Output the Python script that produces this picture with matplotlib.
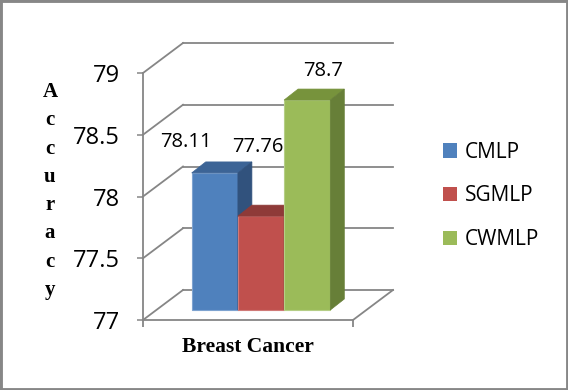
import matplotlib
matplotlib.use("Agg")
import matplotlib.pyplot as plt
from matplotlib.patches import Polygon, Rectangle
from matplotlib.lines import Line2D
from matplotlib.transforms import offset_copy, IdentityTransform

# ---- data ----
category = "Breast Cancer"
series = ["CMLP", "SGMLP", "CWMLP"]
values = [78.11, 77.76, 78.7]
value_labels = ["78.11", "77.76", "78.7"]
yticks = [77, 77.5, 78, 78.5, 79]
ytick_labels = ["77", "77.5", "78", "78.5", "79"]
ylabel = "Accuracy"

# ---- style ----
front_colors = ["#4F81BD", "#C0504D", "#9BBB59"]
top_colors = ["#3C6496", "#8E3A38", "#77933C"]
side_colors = ["#31527D", "#7A302E", "#677F38"]
edge_colors = ["#7EA3D0", "#D07A78", "#B5CE86"]
grid_color = "#868686"
W, H = 568, 390
DPI = 100
wall_dx, wall_dy = 40, 30      # back wall offset (pixels)
bar_dx, bar_dy = 13, 10        # bar plane offset (pixels)
dep_dx, dep_dy = 14, 11        # bar depth (pixels)
label_off = [(-29, 31), (-3, 69), (16, 29)]  # value label offsets (pixels)

fig = plt.figure(figsize=(W / DPI, H / DPI), dpi=DPI)
fig.patch.set_facecolor("white")
fig.add_artist(Rectangle((0, 0), 1, 1, transform=fig.transFigure,
                         fill=False, edgecolor="#878787", linewidth=3.5))

ax = fig.add_axes([143 / W, 70 / H, 210 / W, 247 / H])
ax.set_xlim(0, 1)
ax.set_ylim(77, 79)
ax.patch.set_visible(False)
for s in ["top", "right"]:
    ax.spines[s].set_visible(False)
for s in ["left", "bottom"]:
    ax.spines[s].set_color(grid_color)
    ax.spines[s].set_linewidth(1.3)
ax.set_yticks(yticks)
ax.set_yticklabels(ytick_labels, fontsize=17, family="Open Sans")
ax.set_xticks([0, 1])
ax.set_xticklabels(["", ""])
ax.tick_params(axis="y", length=4.5, width=1.1, color=grid_color, pad=12)
ax.tick_params(axis="x", length=5, width=1.3, color=grid_color)

fig.canvas.draw()

# back wall gridlines and side-wall diagonals
wall_trans = offset_copy(ax.transData, fig=fig, x=wall_dx, y=wall_dy, units="dots")
for v in yticks:
    ax.add_line(Line2D([0, 1], [v, v], transform=wall_trans, color=grid_color,
                       linewidth=1.3, clip_on=False, zorder=1))
    p = ax.transData.transform((0, v))
    ax.add_line(Line2D([p[0], p[0] + wall_dx], [p[1], p[1] + wall_dy],
                       transform=IdentityTransform(), color=grid_color,
                       linewidth=1.3, clip_on=False, zorder=1))
p = ax.transData.transform((1, yticks[0]))
ax.add_line(Line2D([p[0], p[0] + wall_dx], [p[1], p[1] + wall_dy],
                   transform=IdentityTransform(), color=grid_color,
                   linewidth=1.3, clip_on=False, zorder=1))

# bars
bar_trans = offset_copy(ax.transData, fig=fig, x=bar_dx, y=bar_dy, units="dots")
width = 0.22
xs = [0.5 + (i - 1) * width for i in range(len(values))]
base = yticks[0]
bars = ax.bar(xs, [v - base for v in values], bottom=base, width=width,
              color=front_colors, edgecolor=edge_colors, linewidth=0.8,
              label=None, clip_on=False)
for i, (b, v) in enumerate(zip(bars, values)):
    b.set_transform(bar_trans)
    b.set_zorder(3 + i)
    x0, y0 = bar_trans.transform((xs[i] - width / 2, base))
    x1, y1 = bar_trans.transform((xs[i] + width / 2, v))
    top = Polygon([(x0, y1), (x1, y1), (x1 + dep_dx, y1 + dep_dy), (x0 + dep_dx, y1 + dep_dy)],
                  closed=True, transform=IdentityTransform(), facecolor=top_colors[i],
                  edgecolor=top_colors[i], linewidth=0.5, zorder=3 + i, clip_on=False)
    side = Polygon([(x1, y0), (x1, y1), (x1 + dep_dx, y1 + dep_dy), (x1 + dep_dx, y0 + dep_dy)],
                   closed=True, transform=IdentityTransform(), facecolor=side_colors[i],
                   edgecolor=side_colors[i], linewidth=0.5, zorder=3 + i, clip_on=False)
    ax.add_patch(top)
    ax.add_patch(side)
    lx = (x0 + x1) / 2 + label_off[i][0]
    ly = y1 + label_off[i][1]
    ax.text(lx, ly, value_labels[i], transform=IdentityTransform(), ha="center",
            va="center", fontsize=14.5, family="Open Sans", color="black", zorder=10)

# x category label
ax.text(0.5, -0.11, category, transform=ax.transAxes, ha="center", va="center",
        fontsize=15.5, fontweight="bold", family="Liberation Serif")

# stacked y label
for k, ch in enumerate(ylabel):
    fig.text(50 / W, 1 - (92 + k * 28.3) / H, ch, ha="center", va="center",
             fontsize=15, fontweight="bold", family="Liberation Serif")

# legend
handles = [Rectangle((0, 0), 1, 1, facecolor=c, edgecolor="none") for c in front_colors]
fig.legend(handles, series, loc="center left", bbox_to_anchor=(424 / W, 1 - 196 / H),
           frameon=False, prop={"family": "Open Sans", "size": 15},
           handlelength=0.7, handleheight=0.7, handletextpad=0.35, labelspacing=1.1)

fig.savefig("out.png", dpi=DPI, facecolor="white")
